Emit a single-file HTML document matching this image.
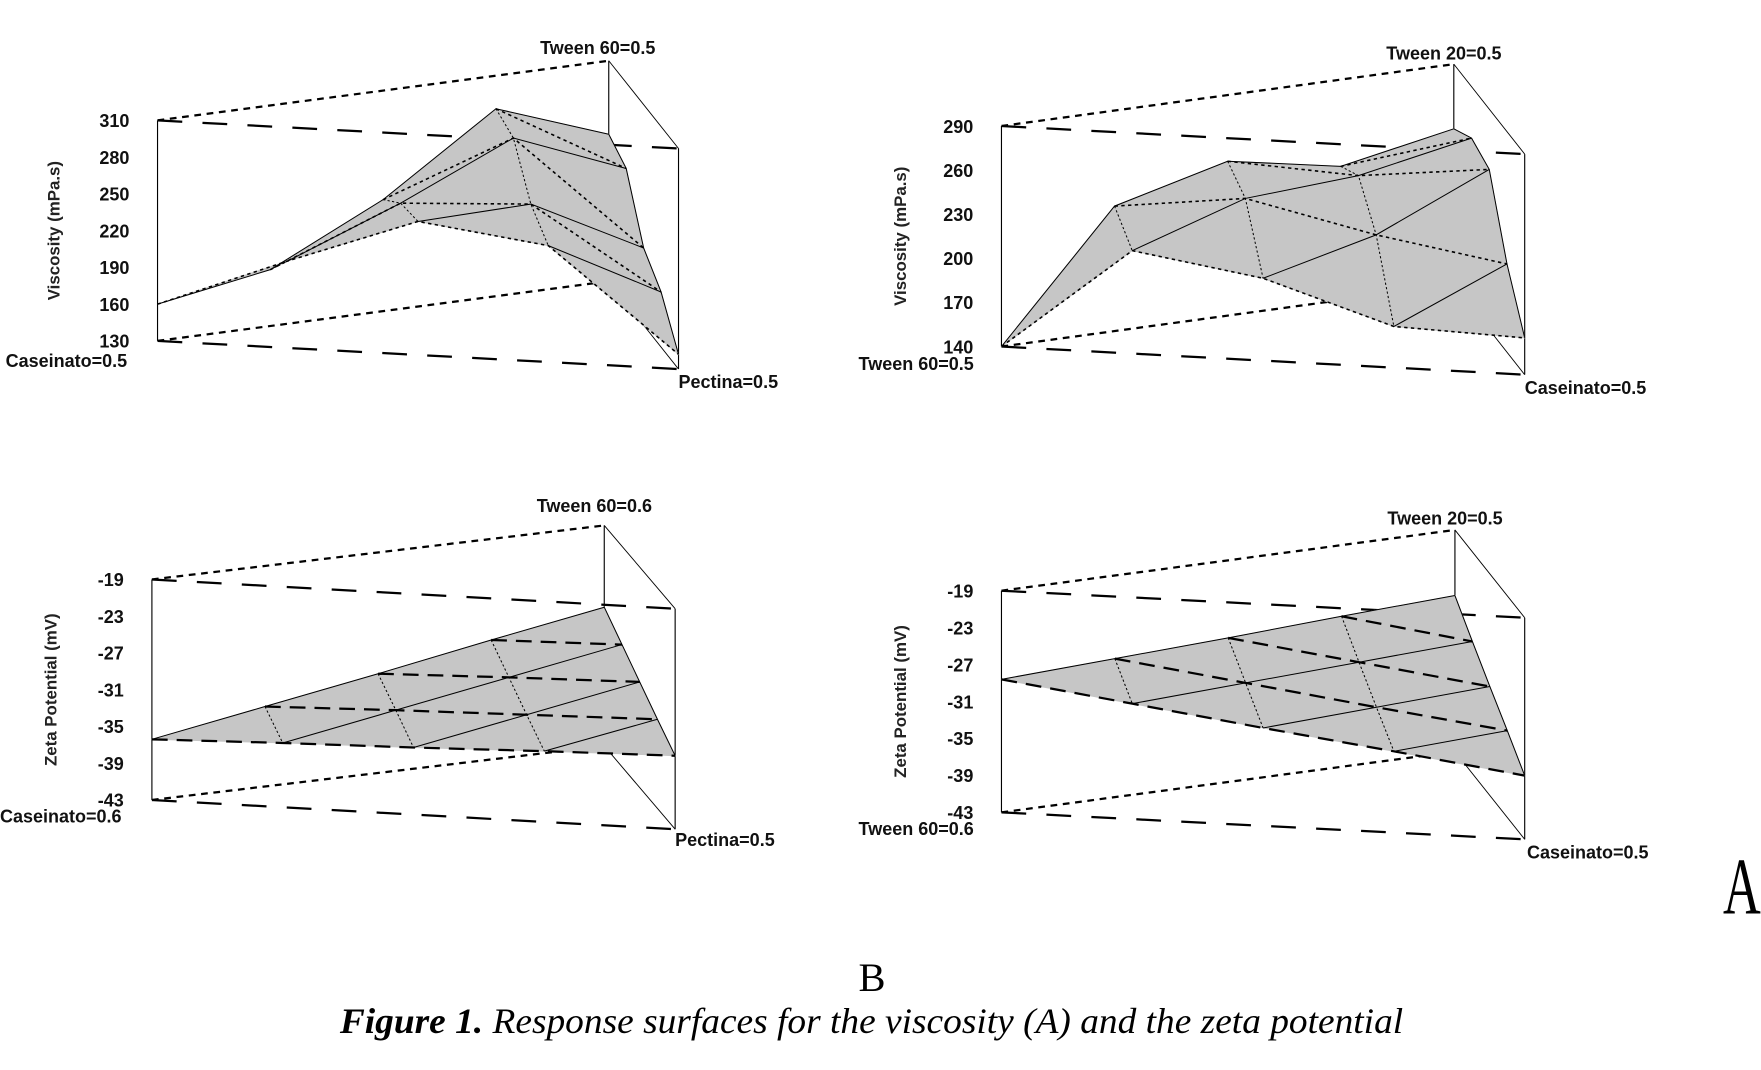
<!DOCTYPE html>
<html><head><meta charset="utf-8"><style>
html,body{margin:0;padding:0;background:#fff;width:1761px;height:1070px;overflow:hidden}
svg{display:block}
text{font-family:"Liberation Sans",sans-serif}
.tick{font-weight:bold;font-size:16px;fill:#111}
.lab{font-weight:bold;font-size:16px;fill:#111}
.ttl{font-weight:bold;font-size:15px;fill:#222}
</style></head><body>
<svg id="fig" width="1761" height="1070" viewBox="0 0 1565 951" preserveAspectRatio="none" xmlns="http://www.w3.org/2000/svg">
<text x="775" y="881" text-anchor="middle" style="font-family:'Liberation Serif',serif;font-size:36px">B</text>
<text x="302" y="918" textLength="945" lengthAdjust="spacingAndGlyphs" style="font-family:'Liberation Serif',serif;font-size:32px;font-style:italic"><tspan font-weight="bold">Figure 1.</tspan> Response surfaces for the viscosity (A) and the zeta potential</text>
<text x="1548" y="810" text-anchor="middle" style="font-family:'Liberation Serif',serif;font-size:62px" transform="translate(1548 0) scale(0.75 1.15) translate(-1548 -104)">A</text>
</svg>
<script>
// ---- data ----
// chart 1: viscosity, Caseinato / Pectina / Tween 60
const visc1Ticks = [130,160,190,220,250,280,310];
const visc1Z = [[160,176,221,283,250],[201,236,277,240],[239,241,193],[225,175],[142]];
// chart 2: viscosity, Tween 60 / Caseinato / Tween 20
const visc2Ticks = [140,170,200,230,260,290];
const visc2Z = [[140,225,245,231,246],[210,235,240,255],[196,215,249],[168,200],[165]];
// chart 3: zeta potential, Caseinato / Pectina / Tween 60
const zeta1Ticks = [-43,-39,-35,-31,-27,-23,-19];
const zeta1TickLabels = ["-43","-39","-35","-31","-27","-23","-19"];
const zeta1Z = [[-36.4,-34.3,-32.2,-30.0,-27.9],[-36.0,-33.9,-31.8,-29.7],[-35.7,-33.6,-31.5],[-35.3,-33.3],[-35.0]];
// chart 4: zeta potential, Tween 60 / Caseinato / Tween 20
const zeta2Ticks = [-43,-39,-35,-31,-27,-23,-19];
const zeta2TickLabels = ["-43","-39","-35","-31","-27","-23","-19"];
const zeta2Z = [[-28.6,-28.0,-27.4,-26.7,-26.1],[-30.5,-29.9,-29.3,-28.7],[-32.4,-31.8,-31.2],[-34.2,-33.6],[-36.1]];

const NS="http://www.w3.org/2000/svg";
const svg=document.getElementById('fig');
function mk(tag,attrs,parent){const e=document.createElementNS(NS,tag);for(const k in attrs)e.setAttribute(k,attrs[k]);(parent||svg).appendChild(e);return e;}

function chart(cfg){
  const g=mk('g',{});
  
  
  const zMin=cfg.ticks[0], zMax=cfg.ticks[cfg.ticks.length-1];
  const H=cfg.L.y-cfg.Ltop;
  const h=H/(zMax-zMin);
  const N=cfg.z.length-1;
  function P(i,k,z){const t=i/N,s=k/N,a=1-t-s;
    const x=cfg.L.x*a+cfg.F.x*t+cfg.B.x*s;
    const yb=cfg.L.y*a+cfg.F.y*t+cfg.B.y*s;
    return [x,yb-(z-zMin)*h];}
  const yz=(v)=>cfg.L.y-(v-zMin)*h;
  const box=[
    [cfg.L.x,cfg.L.y,cfg.L.x,cfg.Ltop,'none',1],
    [cfg.B.x,cfg.B.y,cfg.B.x,cfg.B.y-H,'none',1],
    [cfg.F.x,cfg.F.y,cfg.F.x,cfg.F.y-H,'none',1],
    [cfg.L.x,cfg.Ltop,cfg.B.x,cfg.B.y-H,'6,5',2],
    [cfg.L.x,cfg.L.y,cfg.B.x,cfg.B.y,'6,5',2],
    [cfg.L.x,cfg.Ltop,cfg.F.x,cfg.F.y-H,'22,18',2],
    [cfg.L.x,cfg.L.y,cfg.F.x,cfg.F.y,'22,18',2],
    [cfg.B.x,cfg.B.y-H,cfg.F.x,cfg.F.y-H,'none',0.8],
    [cfg.B.x,cfg.B.y,cfg.F.x,cfg.F.y,'none',0.8]];
  box.forEach(b=>{const l=mk('line',{x1:b[0],y1:b[1],x2:b[2],y2:b[3],stroke:'#000','stroke-width':b[5],'stroke-dasharray':b[4]},g);
    
    });
  const sg=mk('g',{},g);
  
  
  for(let i=0;i<N;i++)for(let k=0;k<N-i;k++){
    const tris=[[[i,k],[i+1,k],[i,k+1]]];
    if(i+k<N-1)tris.push([[i+1,k],[i+1,k+1],[i,k+1]]);
    tris.forEach(tr=>{const pts=tr.map(p=>P(p[0],p[1],cfg.z[p[0]][p[1]]).join(',')).join(' ');
      const pg=mk('polygon',{points:pts,fill:'#c6c6c6',stroke:'#c6c6c6','stroke-width':0.8},sg);
      
      });
  }
  for(let i=0;i<=N;i++){const pts=[];for(let k=0;k<=N-i;k++)pts.push(P(i,k,cfg.z[i][k]).join(','));
    if(pts.length>1){const pl=mk('polyline',{points:pts.join(' '),fill:'none',stroke:'#000','stroke-width':0.9},sg);
      
      }}
  for(let k=0;k<=N;k++){const pts=[];for(let i=0;i<=N-k;i++)pts.push(P(i,k,cfg.z[i][k]).join(','));
    if(pts.length>1){const pl=mk('polyline',{points:pts.join(' '),fill:'none',stroke:'#000','stroke-width':cfg.dashW,'stroke-dasharray':cfg.dash},sg);
      
      }}
  for(let a=0;a<N;a++){const pts=[];for(let i=0;i<=N-a;i++){const k=N-a-i;pts.push(P(i,k,cfg.z[i][k]).join(','));}
    const pl=mk('polyline',{points:pts.join(' '),fill:'none',stroke:'#000','stroke-width':0.9,'stroke-dasharray':a==0?'none':'2,2'},sg);
    
    }
  cfg.ticks.forEach((v,j)=>{const t=mk('text',{x:cfg.L.x-25,y:yz(v)+6,'text-anchor':'end',class:'tick'},g);
    t.textContent=cfg.tickLabels?cfg.tickLabels[j]:String(v);
    
    });
  const tt=mk('text',{x:0,y:0,'text-anchor':'middle',class:'ttl',transform:`translate(${cfg.titleX} ${(cfg.L.y+cfg.Ltop)/2}) rotate(-90)`},g);
  tt.textContent=cfg.title;
  
  
  cfg.labels.forEach(lb=>{const t=mk('text',{x:lb[1],y:lb[2],class:'lab'},g);
    t.textContent=lb[0];
    
    });
}

chart({name:'viscosity-chart-1',ticks:visc1Ticks,z:visc1Z,L:{x:140,y:303},Ltop:107,B:{x:541,y:250},F:{x:603,y:328},
  dash:'3,3',dashW:1.4,title:'Viscosity (mPa.s)',titleX:53,
  labels:[['Tween 60=0.5',480,48],['Caseinato=0.5',5,326],['Pectina=0.5',603,345]]});
chart({name:'viscosity-chart-2',ticks:visc2Ticks,z:visc2Z,L:{x:890,y:308},Ltop:112,B:{x:1292,y:253},F:{x:1355,y:333},
  dash:'3,3',dashW:1.4,title:'Viscosity  (mPa.s)',titleX:805,
  labels:[['Tween 20=0.5',1232,53],['Tween 60=0.5',763,329],['Caseinato=0.5',1355,350]]});
chart({name:'zeta-chart-1',ticks:zeta1Ticks,tickLabels:zeta1TickLabels,z:zeta1Z,L:{x:135,y:711},Ltop:515,B:{x:537,y:663},F:{x:600,y:737},
  dash:'14,8',dashW:2,title:'Zeta Potential  (mV)',titleX:50,
  labels:[['Tween 60=0.6',477,455],['Caseinato=0.6',0,731],['Pectina=0.5',600,752]]});
chart({name:'zeta-chart-2',ticks:zeta2Ticks,tickLabels:zeta2TickLabels,z:zeta2Z,L:{x:890,y:722},Ltop:525,B:{x:1293,y:668},F:{x:1355,y:746},
  dash:'14,8',dashW:2,title:'Zeta Potential  (mV)',titleX:805,
  labels:[['Tween 20=0.5',1233,466],['Tween 60=0.6',763,742],['Caseinato=0.5',1357,763]]});
</script>
</body></html>
